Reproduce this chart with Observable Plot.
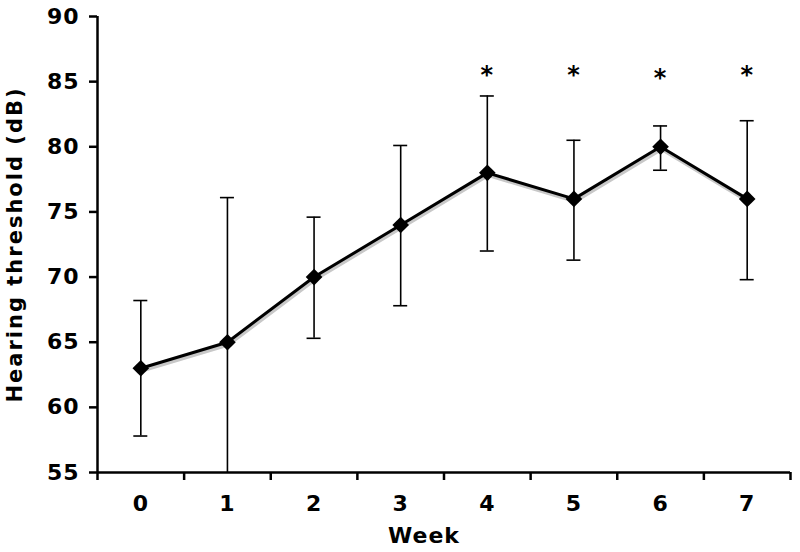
<!DOCTYPE html>
<html>
<head>
<meta charset="utf-8">
<script src="https://cdn.jsdelivr.net/npm/d3@7"></script>
<script src="https://cdn.jsdelivr.net/npm/@observablehq/plot@0.6"></script>
<style>
  html, body { margin: 0; padding: 0; background: #fff; }
  svg { font-family: "DejaVu Sans", Verdana, sans-serif; }
  svg text { letter-spacing: 1px; }
</style>
</head>
<body>
<div id="chart"></div>
<script>
const weeks = [0, 1, 2, 3, 4, 5, 6, 7];
const weekLabels = ["0", "1", "2", "3", "4", "5", "6", "7"];
const means = [63, 65, 70, 74, 78, 76, 80, 76];
const highs = [68.2, 76.1, 74.6, 80.1, 83.9, 80.5, 81.6, 82.0];
const lows = [57.8, 53.9, 65.3, 67.8, 72.0, 71.3, 78.2, 69.8];
const sigWeeks = [4, 5, 6, 7];
const sigLevel = [86, 86, 85.8, 86];
const yTicks = [55, 60, 65, 70, 75, 80, 85, 90];
const xBoundaries = [-0.5, 0.5, 1.5, 2.5, 3.5, 4.5, 5.5, 6.5, 7.5];

const data = weeks.map((w, i) => ({week: w, mean: means[i], lo: lows[i], hi: highs[i]}));
const stars = sigWeeks.map((w, i) => ({week: w, y: sigLevel[i]}));

const chart = Plot.plot({
  width: 800,
  height: 552,
  marginLeft: 97,
  marginRight: 10,
  marginTop: 16,
  marginBottom: 80,
  x: {domain: [-0.5, 7.5]},
  y: {domain: [55, 90]},
  marks: [
    Plot.axisY({ticks: yTicks, tickSize: 8, tickPadding: 10, fontSize: 22, fontWeight: "bold", strokeWidth: 2.5, label: null}),
    Plot.axisX({ticks: xBoundaries, tickSize: 8, tickFormat: () => "", strokeWidth: 2.5, label: null}),
    Plot.axisX({ticks: weeks, tickSize: 0, tickPadding: 23, tickFormat: (d) => weekLabels[weeks.indexOf(d)], fontSize: 22, fontWeight: "bold", label: null}),
    Plot.ruleX([-0.5], {y1: 55, y2: 90, strokeWidth: 2.5}),
    Plot.ruleY([55], {x1: -0.5, x2: 7.5, strokeWidth: 2.5}),
    Plot.ruleX(data, {x: "week", y1: "lo", y2: "hi", strokeWidth: 1.6, clip: true}),
    Plot.ruleY(data, {y: "hi", x1: "week", x2: "week", insetLeft: -7, insetRight: -7, strokeWidth: 1.6, clip: true}),
    Plot.ruleY(data, {y: "lo", x1: "week", x2: "week", insetLeft: -7, insetRight: -7, strokeWidth: 1.6, clip: true}),
    Plot.line(data, {x: "week", y: "mean", stroke: "#c8c8c8", strokeWidth: 3.5, dx: 1, dy: 2.5}),
    Plot.line(data, {x: "week", y: "mean", stroke: "#000", strokeWidth: 3}),
    Plot.dot(data, {x: "week", y: "mean", symbol: "diamond2", r: 7.5, fill: "#000", stroke: "none"}),
    Plot.text(stars, {x: "week", y: "y", text: () => "*", fontSize: 24, fontWeight: "bold", dy: 7}),
    Plot.text(["Hearing threshold (dB)"], {frameAnchor: "left", textAnchor: "middle", dx: -82, rotate: -90, fontSize: 21, fontWeight: "bold"}),
    Plot.text(["Week"], {frameAnchor: "bottom", dx: -20, dy: 70, fontSize: 22, fontWeight: "bold"})
  ]
});
d3.select(chart).selectAll("text").filter(function() { return this.textContent === "Hearing threshold (dB)"; })
  .style("letter-spacing", "2px");
document.getElementById("chart").appendChild(chart);
</script>
</body>
</html>
